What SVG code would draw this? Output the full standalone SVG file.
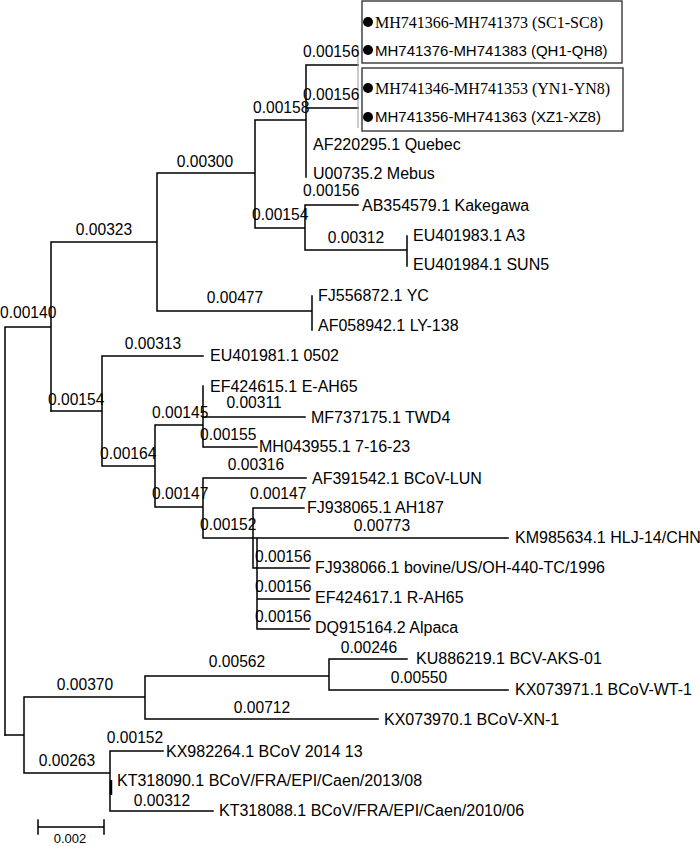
<svg xmlns="http://www.w3.org/2000/svg" width="700" height="846" viewBox="0 0 700 846">
<style>
.b{stroke:#000;stroke-width:1.5;fill:none;stroke-linecap:square}
.g{stroke:#999;stroke-width:1;fill:none}
.box{stroke:#444;stroke-width:1.5;fill:none}
text{font-family:"Liberation Sans",Arial,sans-serif;font-size:16px;fill:#000}
.n{font-size:15.6px}
.t{font-size:15px}
.s{font-family:"Liberation Serif","Times New Roman",serif;font-size:16px}
.m{text-anchor:middle}
</style>
<rect width="700" height="846" fill="#fff"/>
<g id="connectors">
<path class="b" d="M5,327V735 M5,327H51 M51,242V411 M51,242H157 M157,173V311 M157,173H255 M255,120V228 M255,120H306 M306,65V177 M306,65H358 M306,108H358 M255,228H305 M305,205V250 M305,205H358 M305,250H407 M407,236V266 M157,311H312 M312,296V330"/>
<path class="g" d="M358,47V128"/>
<path class="b" d="M51,411H102 M102,356V466 M102,356H203 M102,466H155 M155,425V507 M155,425H203 M203,386V447 M203,417H305 M203,447H257 M155,507H203 M203,478V538 M203,478H306 M203,538H508 M253,508V568 M253,508H304 M257,538V629 M253,568H309 M257,599H309 M257,629H309"/>
<path class="b" d="M5,735H24 M24,697V773 M24,697H145 M145,676V719 M145,676H329 M329,659V690 M329,659H407 M329,690H508 M145,719H378 M24,773H110 M110,751V811 M110,751H163 M110,811H213"/>
<path d="M111,780V795" stroke="#000" stroke-width="2.5"/>
</g>
<g id="scale">
<path class="b" d="M38,827H104 M38,820V834 M104,820V834"/>
<text x="70" y="843" class="m" style="font-size:13px">0.002</text>
</g>
<g id="boxes">
<rect class="box" x="362" y="1" width="260" height="62"/>
<rect class="box" x="362" y="68" width="261" height="63"/>
</g>
<g id="study-nodes">
<g id="sc"><circle cx="368" cy="22" r="5"/><text class="s" x="375" y="28">MH741366-MH741373 (SC1-SC8)</text></g>
<g id="qh"><circle cx="368" cy="50" r="5"/><text class="t" x="375" y="56">MH741376-MH741383 (QH1-QH8)</text></g>
<g id="yn"><circle cx="368" cy="88" r="5"/><text class="s" x="375" y="94">MH741346-MH741353 (YN1-YN8)</text></g>
<g id="xz"><circle cx="368" cy="117" r="5"/><text class="t" x="375" y="122">MH741356-MH741363 (XZ1-XZ8)</text></g>
</g>
<g id="leaves">
<text x="313" y="150">AF220295.1 Quebec</text>
<text x="313" y="179">U00735.2 Mebus</text>
<text x="362" y="211">AB354579.1 Kakegawa</text>
<text x="413" y="241">EU401983.1 A3</text>
<text x="413" y="270">EU401984.1 SUN5</text>
<text x="318" y="301">FJ556872.1 YC</text>
<text x="318" y="331">AF058942.1 LY-138</text>
<text x="210" y="361">EU401981.1 0502</text>
<text x="210" y="392">EF424615.1 E-AH65</text>
<text x="311" y="423">MF737175.1 TWD4</text>
<text x="259" y="452">MH043955.1 7-16-23</text>
<text x="312" y="484">AF391542.1 BCoV-LUN</text>
<text x="307" y="513">FJ938065.1 AH187</text>
<text x="515" y="543">KM985634.1 HLJ-14/CHN</text>
<text x="315" y="573">FJ938066.1 bovine/US/OH-440-TC/1996</text>
<text x="315" y="603">EF424617.1 R-AH65</text>
<text x="315" y="633">DQ915164.2 Alpaca</text>
<text x="416" y="664">KU886219.1 BCV-AKS-01</text>
<text x="515" y="695">KX073971.1 BCoV-WT-1</text>
<text x="384" y="725">KX073970.1 BCoV-XN-1</text>
<text x="166" y="757">KX982264.1 BCoV 2014 13</text>
<text x="117" y="786">KT318090.1 BCoV/FRA/EPI/Caen/2013/08</text>
<text x="219" y="816">KT318088.1 BCoV/FRA/EPI/Caen/2010/06</text>
</g>
<g id="branch-labels" class="n">
<text class="n" x="303" y="57">0.00156</text>
<text class="n" x="303" y="100">0.00156</text>
<text class="n" x="253" y="113">0.00158</text>
<text class="n m" x="205" y="167">0.00300</text>
<text class="n m" x="104" y="235">0.00323</text>
<text class="n" x="303" y="196">0.00156</text>
<text class="n" x="252" y="220">0.00154</text>
<text class="n m" x="356" y="243">0.00312</text>
<text class="n m" x="235" y="303">0.00477</text>
<text class="n" x="0" y="318">0.00140</text>
<text class="n m" x="153" y="349">0.00313</text>
<text class="n" x="48" y="405">0.00154</text>
<text class="n m" x="254" y="408">0.00311</text>
<text class="n" x="152" y="418">0.00145</text>
<text class="n" x="200" y="440">0.00155</text>
<text class="n" x="100" y="459">0.00164</text>
<text class="n m" x="256" y="470">0.00316</text>
<text class="n" x="152" y="499">0.00147</text>
<text class="n" x="250" y="499">0.00147</text>
<text class="n" x="200" y="530">0.00152</text>
<text class="n m" x="382" y="531">0.00773</text>
<text class="n" x="255" y="562">0.00156</text>
<text class="n" x="255" y="592">0.00156</text>
<text class="n" x="255" y="622">0.00156</text>
<text class="n m" x="369" y="653">0.00246</text>
<text class="n m" x="237" y="667">0.00562</text>
<text class="n m" x="419" y="683">0.00550</text>
<text class="n m" x="85" y="690">0.00370</text>
<text class="n m" x="262" y="713">0.00712</text>
<text class="n m" x="135" y="743">0.00152</text>
<text class="n m" x="67" y="766">0.00263</text>
<text class="n m" x="162" y="806">0.00312</text>
</g>
</svg>
